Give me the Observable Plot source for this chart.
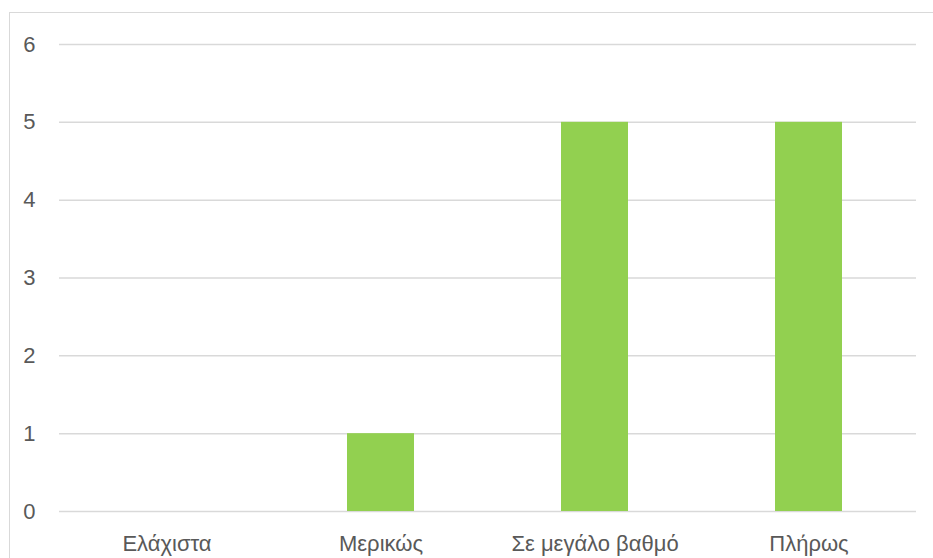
<!DOCTYPE html>
<html>
<head>
<meta charset="utf-8">
<script src="https://cdn.jsdelivr.net/npm/d3@7"></script>
<script src="https://cdn.jsdelivr.net/npm/@observablehq/plot@0.6"></script>
<style>
  html, body { margin: 0; padding: 0; background: #fff; overflow: hidden; }
  #wrap { position: relative; width: 933px; height: 558px; }
  #border { position: absolute; left: 9px; top: 12px; width: 940px; height: 600px;
            border: 1.5px solid #d9d9d9; box-sizing: border-box; pointer-events: none; }
  #chart { position: absolute; left: 0; top: 0; }
</style>
</head>
<body>
<div id="wrap"><div id="chart"></div><div id="border"></div></div>
<script>
const categories = ["Ελάχιστα", "Μερικώς", "Σε μεγάλο βαθμό", "Πλήρως"];
const values = [0, 1, 5, 5];
const yTicks = [0, 1, 2, 3, 4, 5, 6];

const data = categories.map((c, i) => ({category: c, value: values[i]}));

const chart = Plot.plot({
  width: 933,
  height: 558,
  marginLeft: 59,
  marginRight: 17,
  marginTop: 44,
  marginBottom: 47,
  style: {fontFamily: "'Liberation Sans', Arial, sans-serif", fontSize: "22px", color: "#595959", background: "transparent"},
  x: {domain: categories, paddingInner: 0.687, paddingOuter: 0.3435, label: null},
  y: {domain: [0, 6], label: null},
  marks: [
    Plot.gridY(yTicks, {stroke: "#d9d9d9", strokeOpacity: 1, strokeWidth: 1.5}),
    Plot.barY(data, {x: "category", y: "value", fill: "#92D050"}),
    Plot.axisY({ticks: yTicks, tickFormat: "d", tickSize: 0, tickPadding: 24, fill: "#595959", fontSize: 22}),
    Plot.axisX({tickSize: 0, tickPadding: 24, fill: "#595959", fontSize: 22})
  ]
});
document.getElementById("chart").appendChild(chart);
</script>
</body>
</html>
